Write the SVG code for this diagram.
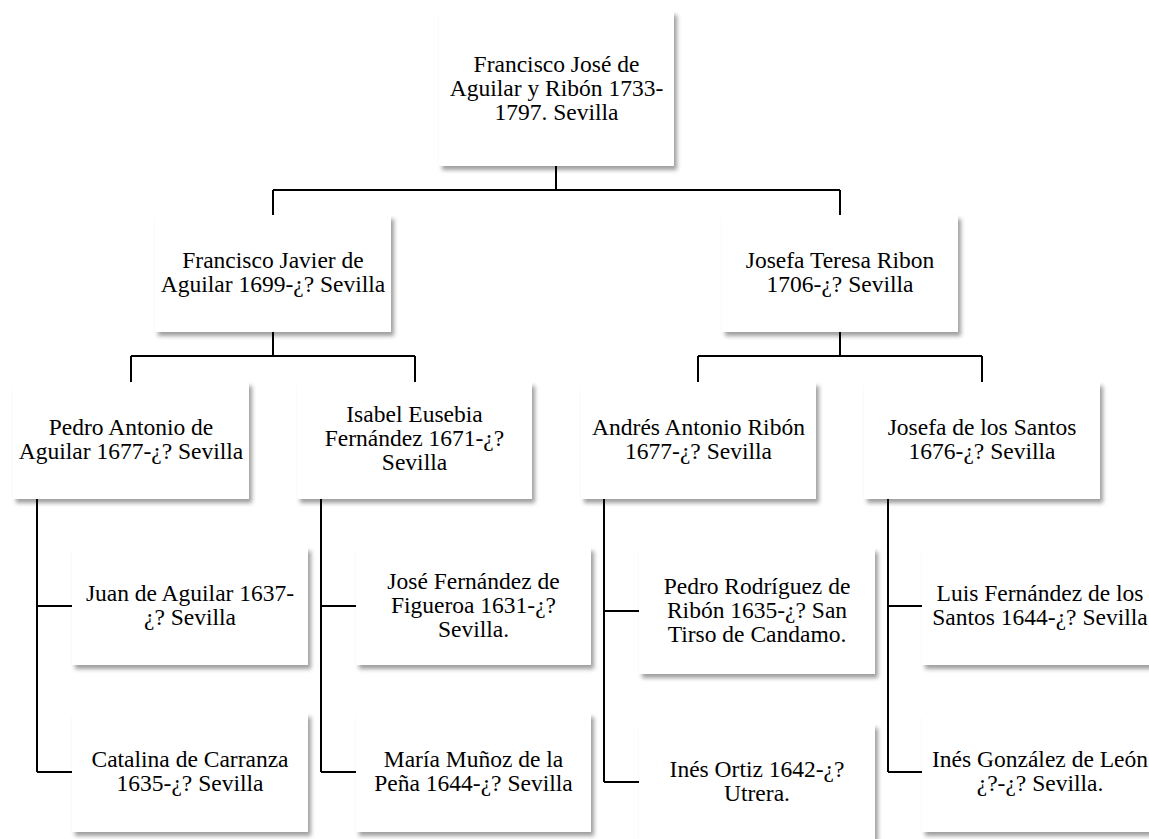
<svg xmlns="http://www.w3.org/2000/svg" width="1149" height="839" viewBox="0 0 1149 839">
<style>
.box{fill:#ffffff;filter:url(#sh);}
.t{font-family:"Liberation Serif","Times New Roman",Tinos,"DejaVu Serif",serif;font-size:23.5px;fill:#000;text-anchor:middle;}
.c{stroke:#000;stroke-width:2;fill:none;}
</style>
<defs>
<filter id="sh" x="-10%" y="-10%" width="125%" height="130%">
<feDropShadow dx="3" dy="4" stdDeviation="2.2" flood-color="#000" flood-opacity="0.38"/>
</filter>
</defs>
<rect width="1149" height="839" fill="#ffffff"/>
<g id="connectors">
<path class="c" d="M556,166V190M273,190H840M273,190V215M840,190V215"/>
<path class="c" d="M273,332V356M131,356H415M131,356V382M415,356V382"/>
<path class="c" d="M840,332V356M698,356H982M698,356V382M982,356V382"/>
<path class="c" d="M37,499V772M37,606H72M37,772H72"/>
<path class="c" d="M321,499V772M321,606H356M321,772H356"/>
<path class="c" d="M604,499V782M604,611H639M604,782H639"/>
<path class="c" d="M888,499V772M888,606H922M888,772H922"/>
</g>
<g id="n1"><rect class="box" x="439" y="11" width="235" height="155"/>
<text class="t"><tspan x="556.5" y="72">Francisco José de</tspan><tspan x="556.5" y="96">Aguilar y Ribón 1733-</tspan><tspan x="556.5" y="120">1797. Sevilla</tspan></text></g>
<g id="n2"><rect class="box" x="155" y="215" width="236" height="117"/>
<text class="t"><tspan x="273" y="268">Francisco Javier de</tspan><tspan x="273" y="292">Aguilar 1699-¿? Sevilla</tspan></text></g>
<g id="n3"><rect class="box" x="722" y="215" width="236" height="117"/>
<text class="t"><tspan x="840" y="268">Josefa Teresa Ribon</tspan><tspan x="840" y="292">1706-¿? Sevilla</tspan></text></g>
<g id="n4"><rect class="box" x="13" y="382" width="236" height="117"/>
<text class="t"><tspan x="131" y="435">Pedro Antonio de</tspan><tspan x="131" y="459">Aguilar 1677-¿? Sevilla</tspan></text></g>
<g id="n5"><rect class="box" x="297" y="382" width="235" height="117"/>
<text class="t"><tspan x="414.5" y="422">Isabel Eusebia</tspan><tspan x="414.5" y="446">Fernández 1671-¿?</tspan><tspan x="414.5" y="470">Sevilla</tspan></text></g>
<g id="n6"><rect class="box" x="581" y="382" width="235" height="117"/>
<text class="t"><tspan x="698.5" y="435">Andrés Antonio Ribón</tspan><tspan x="698.5" y="459">1677-¿? Sevilla</tspan></text></g>
<g id="n7"><rect class="box" x="864" y="382" width="236" height="117"/>
<text class="t"><tspan x="982" y="435">Josefa de los Santos</tspan><tspan x="982" y="459">1676-¿? Sevilla</tspan></text></g>
<g id="n8"><rect class="box" x="72" y="547" width="236" height="118"/>
<text class="t"><tspan x="190" y="601">Juan de Aguilar 1637-</tspan><tspan x="190" y="625">¿? Sevilla</tspan></text></g>
<g id="n9"><rect class="box" x="72" y="713" width="236" height="119"/>
<text class="t"><tspan x="190" y="767">Catalina de Carranza</tspan><tspan x="190" y="791">1635-¿? Sevilla</tspan></text></g>
<g id="n10"><rect class="box" x="356" y="547" width="235" height="118"/>
<text class="t"><tspan x="473.5" y="589">José Fernández de</tspan><tspan x="473.5" y="613">Figueroa 1631-¿?</tspan><tspan x="473.5" y="637">Sevilla.</tspan></text></g>
<g id="n11"><rect class="box" x="356" y="713" width="235" height="119"/>
<text class="t"><tspan x="473.5" y="767">María Muñoz de la</tspan><tspan x="473.5" y="791">Peña 1644-¿? Sevilla</tspan></text></g>
<g id="n12"><rect class="box" x="639" y="548" width="236" height="126"/>
<text class="t"><tspan x="757" y="594">Pedro Rodríguez de</tspan><tspan x="757" y="618">Ribón 1635-¿? San</tspan><tspan x="757" y="642">Tirso de Candamo.</tspan></text></g>
<g id="n13"><rect class="box" x="639" y="724" width="236" height="118"/>
<text class="t"><tspan x="757" y="777">Inés Ortiz 1642-¿?</tspan><tspan x="757" y="801">Utrera.</tspan></text></g>
<g id="n14"><rect class="box" x="922" y="547" width="236" height="118"/>
<text class="t"><tspan x="1040" y="601">Luis Fernández de los</tspan><tspan x="1040" y="625">Santos 1644-¿? Sevilla</tspan></text></g>
<g id="n15"><rect class="box" x="922" y="713" width="236" height="119"/>
<text class="t"><tspan x="1040" y="767">Inés González de León</tspan><tspan x="1040" y="791">¿?-¿? Sevilla.</tspan></text></g>
</svg>
